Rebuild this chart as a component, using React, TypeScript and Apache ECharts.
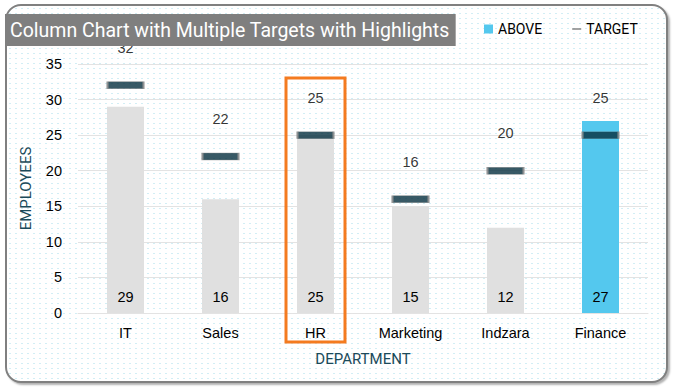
import React, { useEffect, useRef } from "react";
import * as echarts from "echarts";

const categories = ["IT", "Sales", "HR", "Marketing", "Indzara", "Finance"];
const actualValues = [29, 16, 25, 15, 12, 27];
const targetValues = [32, 22, 25, 16, 20, 25];
const yTicks = { min: 0, max: 35, interval: 5 };
const highlightCategory = "HR";

const belowData = actualValues.map((v, i) => (v > targetValues[i] ? "-" : v));
const aboveData = actualValues.map((v, i) => (v > targetValues[i] ? v : "-"));

export default function App() {
  const ref = useRef<HTMLDivElement>(null);
  useEffect(() => {
    if (!ref.current) return;
    const chart = echarts.init(ref.current, null, { renderer: "svg" });
    const labelFont = { fontFamily: "Liberation Sans, Arial", fontSize: 14.5, color: "#000" };
    chart.setOption({
      animation: false,
      backgroundColor: "transparent",
      title: {
        text: "Column Chart with Multiple Targets with Highlights",
        left: 5,
        top: 14,
        padding: [5, 6, 5, 5],
        backgroundColor: "#7f7f7f",
        textStyle: {
          color: "#ffffff",
          fontFamily: "Roboto",
          fontWeight: "normal",
          fontSize: 19.5,
          lineHeight: 22,
        },
      },
      legend: {
        left: 479,
        top: 17,
        itemGap: 30,
        itemWidth: 9,
        itemHeight: 9,
        textStyle: { fontFamily: "Roboto", fontSize: 14, color: "#000" },
        data: [
          { name: "ABOVE", icon: "rect" },
          { name: "TARGET", icon: "path://M0,0H10V2H0Z", itemStyle: { color: "#7f7f7f", borderWidth: 0 } },
        ],
      },
      grid: { left: 78, right: 26, top: 64, bottom: 75 },
      xAxis: {
        type: "category",
        data: categories,
        axisLine: { show: true, lineStyle: { color: "#e3e3e3" } },
        axisTick: { show: false },
        axisLabel: { ...labelFont, margin: 12 },
        name: "DEPARTMENT",
        nameLocation: "middle",
        nameGap: 38,
        nameTextStyle: { fontFamily: "Roboto", fontSize: 15, color: "#1a4a5a" },
      },
      yAxis: {
        type: "value",
        min: yTicks.min,
        max: yTicks.max,
        interval: yTicks.interval,
        axisLine: { show: false },
        axisTick: { show: false },
        splitLine: { lineStyle: { color: "#e3e3e3" } },
        axisLabel: { ...labelFont, margin: 16 },
        name: "EMPLOYEES",
        nameLocation: "middle",
        nameRotate: 90,
        nameGap: 45,
        nameTextStyle: { fontFamily: "Roboto", fontSize: 15, color: "#1a4a5a" },
      },
      series: [
        {
          name: "BELOW",
          type: "bar",
          data: belowData,
          barWidth: 37,
          barGap: "-100%",
          itemStyle: { color: "#e0e0e0" },
          label: { show: true, position: "insideBottom", distance: 9, ...labelFont },
          z: 2,
        },
        {
          name: "ABOVE",
          type: "bar",
          data: aboveData,
          barWidth: 37,
          barGap: "-100%",
          itemStyle: { color: "#54c8ee" },
          label: { show: true, position: "insideBottom", distance: 9, ...labelFont },
          z: 2,
        },
        {
          name: "TARGET",
          type: "scatter",
          data: targetValues,
          symbol: "rect",
          symbolSize: [36, 7],
          itemStyle: { color: "#06303f", borderColor: "#8c8c8c", borderWidth: 1 },
          label: { show: true, position: "top", distance: 26, ...labelFont },
          z: 3,
        },
      ],
    });
    const cx = chart.convertToPixel({ xAxisIndex: 0 }, highlightCategory) as number;
    chart.setOption({
      graphic: [
        {
          type: "rect",
          shape: { x: cx - 29.5, y: 78, width: 59, height: 264 },
          style: { fill: "none", stroke: "#f47b20", lineWidth: 3 },
          z: 10,
        },
      ],
    });
    return () => chart.dispose();
  }, []);
  return (
    <div style={{ position: "fixed", left: 0, top: 0, width: 674, height: 388, background: "#fff" }}>
      <div
        style={{
          position: "absolute",
          left: 5,
          top: 4,
          width: 659,
          height: 375,
          border: "2px solid #808080",
          borderRadius: 16,
          boxShadow: "2px 2px 2px rgba(0,0,0,0.3)",
          backgroundColor: "#fff",
          backgroundImage: "radial-gradient(circle, #d2eef5 0.7px, transparent 1px)",
          backgroundSize: "6px 5px",
        }}
      />
      <div ref={ref} style={{ position: "absolute", left: 0, top: 0, width: 674, height: 388 }} />
    </div>
  );
}
